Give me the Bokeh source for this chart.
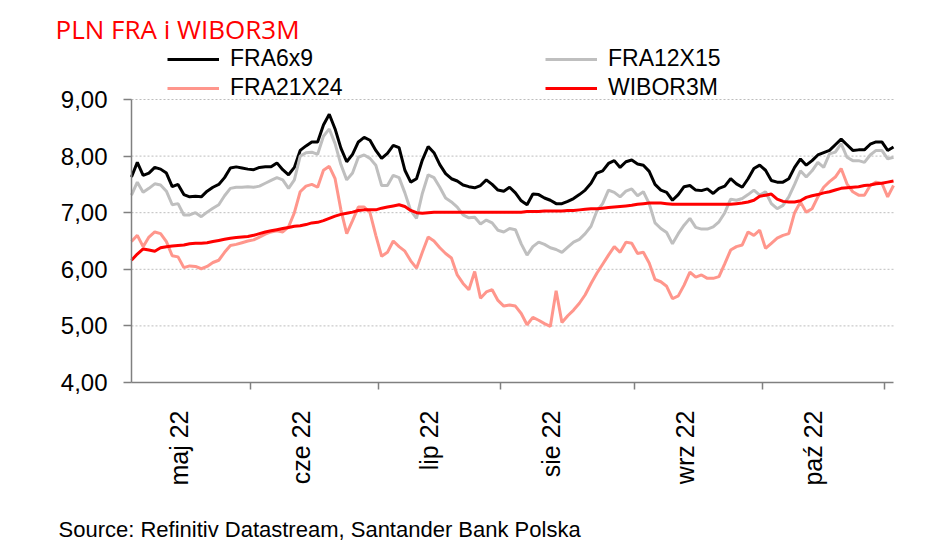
import numpy as np
from bokeh.plotting import figure
from bokeh.models import Range1d, FixedTicker, Legend, LegendItem, Label
from bokeh.embed import file_html
from bokeh.resources import INLINE

title_text = "PLN FRA i WIBOR3M"
source_text = "Source: Refinitiv Datastream, Santander Bank Polska"

month_labels = ["maj 22", "cze 22", "lip 22", "sie 22", "wrz 22", "paź 22"]
month_sessions = [21, 22, 21, 23, 22, 21]   # quotes per month (Nov: remainder)

y_ticks = [4, 5, 6, 7, 8, 9]
y_tick_labels = ["4,00", "5,00", "6,00", "7,00", "8,00", "9,00"]

fra6x9 = [7.63, 7.89, 7.66, 7.70, 7.80, 7.77, 7.70, 7.46, 7.50, 7.32,
          7.28, 7.29, 7.28, 7.38, 7.45, 7.50, 7.62, 7.79, 7.81, 7.79,
          7.77, 7.76, 7.80, 7.81, 7.81, 7.88, 7.76, 7.67, 7.80, 8.10,
          8.18, 8.25, 8.25, 8.55, 8.74, 8.48, 8.14, 7.90, 8.03, 8.25,
          8.33, 8.28, 8.10, 7.96, 8.05, 8.19, 8.15, 7.75, 7.54, 7.60,
          7.93, 8.17, 8.06, 7.85, 7.69, 7.60, 7.56, 7.49, 7.46, 7.44,
          7.48, 7.58, 7.50, 7.40, 7.38, 7.45, 7.35, 7.21, 7.14, 7.33,
          7.32, 7.26, 7.22, 7.16, 7.16, 7.20, 7.25, 7.32, 7.40, 7.52,
          7.70, 7.74, 7.87, 7.92, 7.80, 7.90, 7.93, 7.86, 7.84, 7.73,
          7.50, 7.40, 7.36, 7.22, 7.32, 7.46, 7.48, 7.40, 7.39, 7.42,
          7.34, 7.43, 7.47, 7.60, 7.51, 7.45, 7.60, 7.78, 7.84, 7.75,
          7.57, 7.54, 7.54, 7.60, 7.80, 7.95, 7.84, 7.92, 8.02, 8.06,
          8.10, 8.20, 8.30, 8.20, 8.10, 8.11, 8.11, 8.21, 8.25, 8.25,
          8.10, 8.16]

fra12x15 = [7.31, 7.54, 7.36, 7.43, 7.51, 7.49, 7.38, 7.14, 7.16, 6.96,
            6.96, 7.00, 6.93, 7.01, 7.08, 7.14, 7.30, 7.43, 7.45, 7.45,
            7.46, 7.45, 7.47, 7.52, 7.57, 7.62, 7.58, 7.43, 7.58, 8.00,
            8.06, 8.07, 8.03, 8.35, 8.48, 8.22, 7.85, 7.58, 7.70, 7.98,
            8.02, 7.96, 7.84, 7.48, 7.48, 7.66, 7.62, 7.35, 7.04, 6.90,
            7.34, 7.67, 7.62, 7.45, 7.26, 7.19, 7.10, 6.96, 6.91, 6.92,
            6.80, 6.87, 6.82, 6.69, 6.66, 6.72, 6.70, 6.45, 6.25, 6.40,
            6.48, 6.44, 6.38, 6.35, 6.30, 6.39, 6.48, 6.53, 6.63, 6.76,
            7.03, 7.16, 7.40, 7.36, 7.28, 7.38, 7.42, 7.30, 7.37, 7.16,
            6.82, 6.72, 6.65, 6.45, 6.63, 6.78, 6.90, 6.74, 6.71, 6.71,
            6.75, 6.84, 7.00, 7.24, 7.22, 7.25, 7.32, 7.40, 7.31, 7.37,
            7.16, 7.07, 7.13, 7.28, 7.50, 7.74, 7.63, 7.74, 7.89, 7.80,
            8.04, 8.07, 8.22, 7.98, 7.92, 7.92, 7.89, 8.02, 8.10, 8.10,
            7.95, 7.98]

fra21x24 = [6.49, 6.60, 6.40, 6.57, 6.66, 6.63, 6.49, 6.24, 6.22, 6.03,
            6.06, 6.05, 6.01, 6.05, 6.12, 6.16, 6.30, 6.42, 6.44, 6.47,
            6.50, 6.52, 6.57, 6.62, 6.66, 6.68, 6.66, 6.75, 7.00, 7.37,
            7.47, 7.50, 7.45, 7.75, 7.82, 7.60, 7.05, 6.63, 6.86, 7.10,
            7.10, 7.00, 6.60, 6.23, 6.30, 6.50, 6.40, 6.32, 6.15, 6.02,
            6.30, 6.57, 6.50, 6.38, 6.28, 6.20, 5.90, 5.75, 5.64, 5.96,
            5.49, 5.60, 5.64, 5.45, 5.35, 5.37, 5.35, 5.22, 5.02, 5.15,
            5.10, 5.04, 4.99, 5.62, 5.06, 5.18, 5.28, 5.40, 5.55, 5.75,
            5.93, 6.09, 6.25, 6.40, 6.30, 6.48, 6.46, 6.28, 6.30, 6.11,
            5.82, 5.78, 5.70, 5.48, 5.53, 5.72, 5.95, 5.86, 5.90, 5.84,
            5.84, 5.87, 6.10, 6.34, 6.40, 6.43, 6.66, 6.60, 6.69, 6.37,
            6.46, 6.55, 6.60, 6.63, 7.00, 7.19, 7.01, 7.07, 7.28, 7.45,
            7.55, 7.63, 7.78, 7.51, 7.37, 7.31, 7.31, 7.48, 7.54, 7.52,
            7.28, 7.48]

wibor3m = [6.16, 6.27, 6.36, 6.34, 6.32, 6.38, 6.40, 6.41, 6.42, 6.43,
           6.45, 6.46, 6.46, 6.47, 6.49, 6.51, 6.53, 6.55, 6.56, 6.57,
           6.58, 6.60, 6.63, 6.66, 6.68, 6.70, 6.72, 6.74, 6.76, 6.77,
           6.79, 6.82, 6.83, 6.86, 6.90, 6.94, 6.97, 6.99, 7.01, 7.04,
           7.05, 7.05, 7.05, 7.08, 7.10, 7.12, 7.14, 7.11, 7.04, 7.00,
           6.99, 7.00, 7.01, 7.01, 7.01, 7.01, 7.01, 7.01, 7.01, 7.01,
           7.01, 7.01, 7.01, 7.01, 7.01, 7.01, 7.01, 7.01, 7.02, 7.02,
           7.02, 7.03, 7.03, 7.03, 7.03, 7.04, 7.04, 7.05, 7.06, 7.07,
           7.07, 7.08, 7.09, 7.10, 7.11, 7.12, 7.13, 7.15, 7.16, 7.17,
           7.17, 7.17, 7.16, 7.15, 7.15, 7.15, 7.15, 7.15, 7.15, 7.15,
           7.15, 7.15, 7.15, 7.15, 7.16, 7.17, 7.19, 7.22, 7.29, 7.31,
           7.33, 7.24, 7.20, 7.19, 7.19, 7.21, 7.27, 7.30, 7.32, 7.35,
           7.37, 7.40, 7.43, 7.44, 7.45, 7.46, 7.48, 7.49, 7.51, 7.52,
           7.54, 7.56]

n = len(fra6x9)
xs = list(range(n))

# month boundaries and label positions (in quote-index units)
starts = np.concatenate([[0], np.cumsum(month_sessions)[:-1]])
boundaries = [float(b) - 0.5 for b in np.cumsum(month_sessions)]
label_pos = [float(s) + 8.1 for s in starts]

# canvas geometry (pixels): plot area inside a full-canvas frame
W, H = 930, 542
PL, PR, PT, PB = 131, 893, 99, 382       # plot area edges
y_lo, y_hi = 4.0, 9.0
sx = (PR - PL) / (n - 1)
sy = (PB - PT) / (y_hi - y_lo)
x_range = Range1d(-PL / sx, (n - 1) + (W - PR) / sx)
y_range = Range1d(y_lo - (H - PB) / sy, y_hi + PT / sy)

p = figure(width=W, height=H, output_backend="svg", toolbar_location=None,
           x_range=x_range, y_range=y_range, min_border=0)
p.outline_line_color = None
p.background_fill_color = "white"
p.border_fill_color = "white"
p.grid.visible = False

# horizontal dotted gridlines limited to the plot area
grid_levels = y_ticks[1:]
p.segment(x0=[0] * len(grid_levels), x1=[n - 1] * len(grid_levels),
          y0=grid_levels, y1=grid_levels,
          line_color="#bdbdbd", line_width=1, line_dash="2 2")

axis_color = "#808080"
# y axis
yax = p.yaxis[0]
yax.fixed_location = 0
yax.bounds = (y_lo, y_hi)
yax.ticker = FixedTicker(ticks=y_ticks)
yax.major_label_overrides = dict(zip(y_ticks, y_tick_labels))
yax.axis_line_color = axis_color
yax.axis_line_width = 1.5
yax.major_tick_line_color = axis_color
yax.major_tick_line_width = 1.5
yax.major_tick_out = 8
yax.major_tick_in = 0
yax.minor_tick_line_color = None
yax.major_label_standoff = 16
yax.major_label_text_font = "Liberation Sans"
yax.major_label_text_font_size = "24px"
yax.major_label_text_color = "black"

# x axis
xax = p.xaxis[0]
xax.fixed_location = y_lo
xax.bounds = (0, n - 1)
xax.ticker = FixedTicker(ticks=label_pos, minor_ticks=boundaries)
xax.major_label_overrides = dict(zip(label_pos, month_labels))
xax.axis_line_color = axis_color
xax.axis_line_width = 1.5
xax.major_tick_line_color = None
xax.major_tick_out = 0
xax.major_tick_in = 0
xax.minor_tick_line_color = axis_color
xax.minor_tick_line_width = 1.5
xax.minor_tick_out = 7
xax.minor_tick_in = 0
xax.major_label_orientation = np.pi / 2
xax.major_label_standoff = 21
xax.major_label_text_font = "Liberation Sans"
xax.major_label_text_font_size = "25px"
xax.major_label_text_color = "black"

# series
r_black = p.line(xs, fra6x9, line_color="#000000", line_width=3)
r_gray = p.line(xs, fra12x15, line_color="#bfbfbf", line_width=3)
r_salmon = p.line(xs, fra21x24, line_color="#ff968c", line_width=3)
r_red = p.line(xs, wibor3m, line_color="#ff0000", line_width=3)

def make_legend(items, loc):
    return Legend(items=items, location=loc, orientation="vertical",
                  glyph_width=52, glyph_height=24, label_height=24,
                  label_standoff=11, spacing=2, padding=0, margin=0,
                  border_line_color=None, background_fill_alpha=0,
                  label_text_font="Liberation Sans", label_text_font_size="23px",
                  label_text_color="black")

leg1 = make_legend([LegendItem(label="FRA6x9", renderers=[r_black]),
                    LegendItem(label="FRA21X24", renderers=[r_salmon])], (167, H - 101))
leg2 = make_legend([LegendItem(label="FRA12X15", renderers=[r_gray]),
                    LegendItem(label="WIBOR3M", renderers=[r_red])], (545, H - 101))
p.add_layout(leg1)
p.add_layout(leg2)

# title and source, placed in screen pixels measured from the canvas bottom-left
title = Label(x=55, y=H - 28, x_units="screen", y_units="screen", text=title_text,
              text_color="#ff0000", text_font="Open Sans",
              text_font_size="26px", text_baseline="alphabetic", text_align="left")
source = Label(x=58, y=H - 529, x_units="screen", y_units="screen", text=source_text,
               text_color="black", text_font="Liberation Sans",
               text_font_size="22px", text_baseline="alphabetic", text_align="left")
p.add_layout(title)
p.add_layout(source)

open("out.html", "w").write(file_html(p, INLINE))
